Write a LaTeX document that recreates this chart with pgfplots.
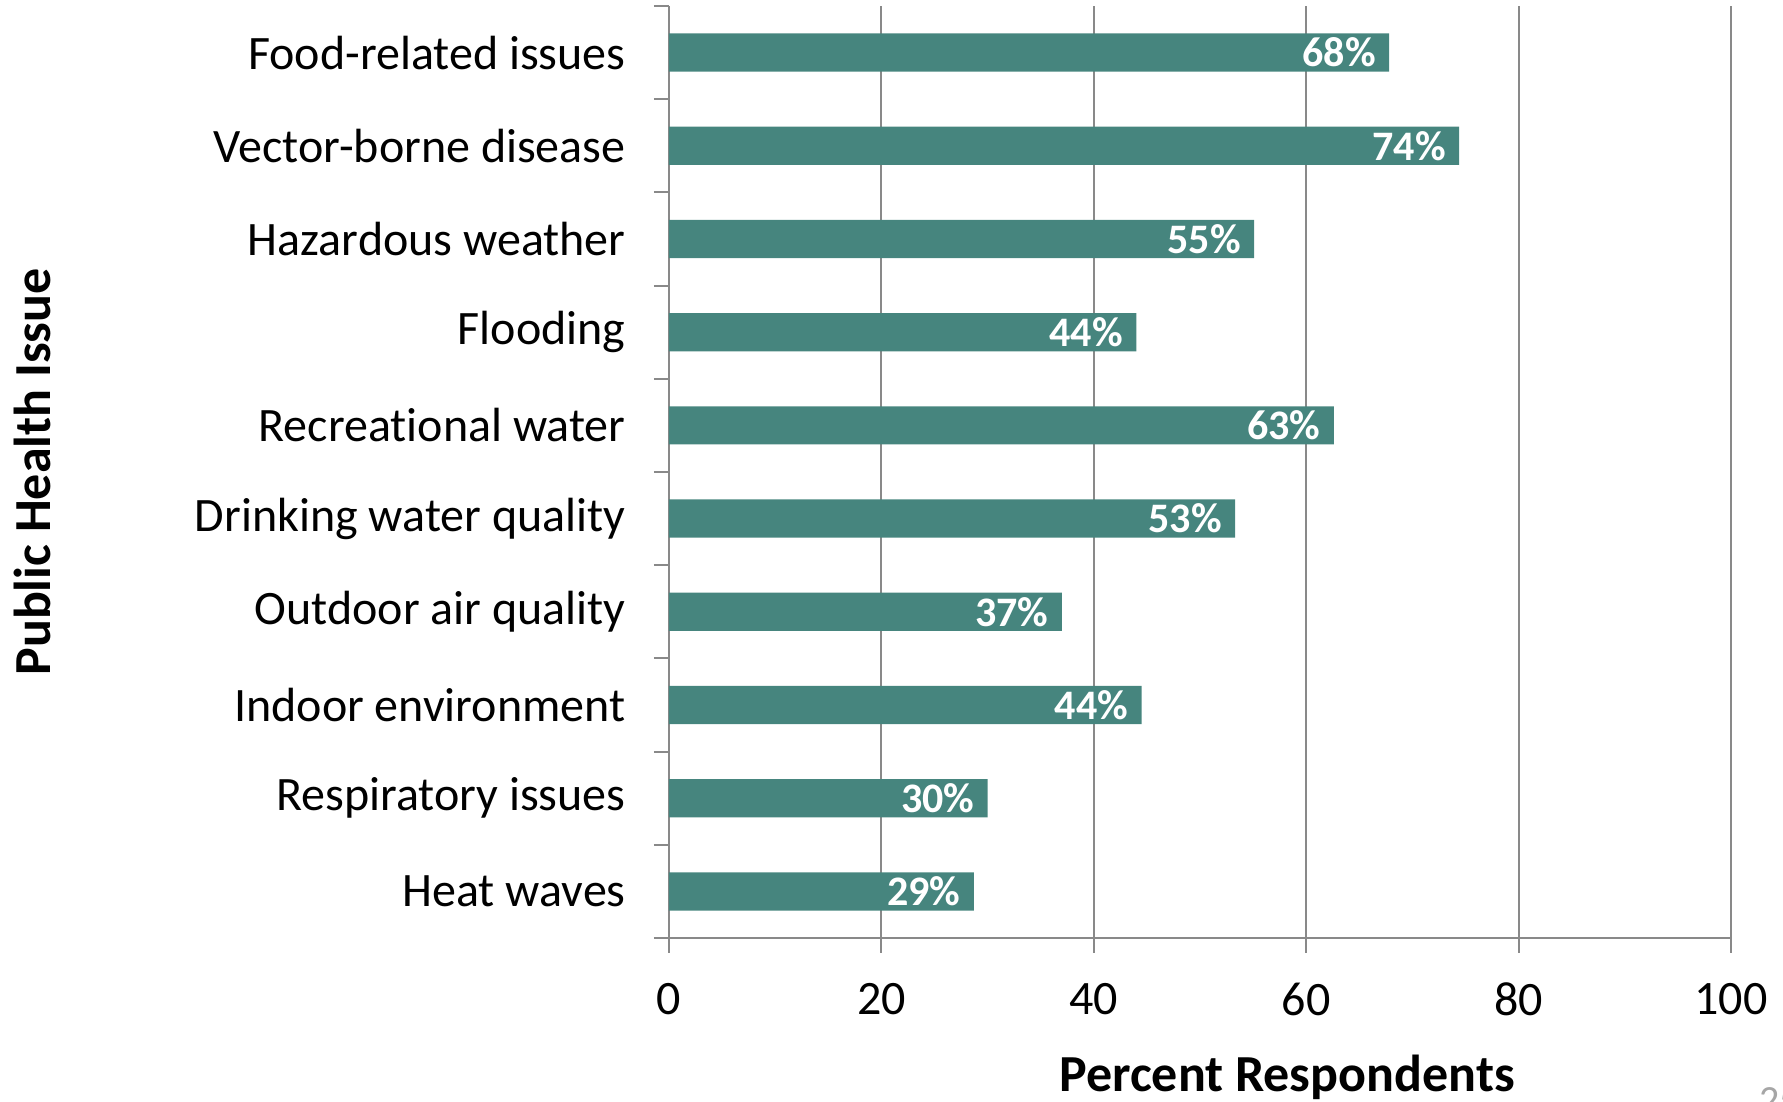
\documentclass[border=0pt]{standalone}
\usepackage{pgfplots}
\pgfplotsset{compat=1.18}
\usepackage{pgfplotstable}
\usepackage{fontspec}
\setmainfont{Carlito}[Ligatures=CommonOff]
\definecolor{barc}{RGB}{70,133,126}
\definecolor{axg}{RGB}{137,137,137}
\pgfplotstableread{
y val lab
0 28.7 29
1 30.0 30
2 44.5 44
3 37.0 37
4 53.3 53
5 62.6 63
6 44.0 44
7 55.1 55
8 74.4 74
9 67.8 68
}\datatable
\begin{document}
\begin{tikzpicture}
\begin{axis}[
  at={(0,0)}, anchor=south west,
  scale only axis, width=531pt, height=466pt,
  xmin=0, xmax=100, ymin=-0.5, ymax=9.5,
  xbar, bar width=0.41, bar shift=0pt,
  axis x line*=bottom, axis y line*=left,
  axis line style={draw=axg, line width=1pt, -},
  tick align=outside, major tick length=7.5pt,
  tick style={draw=axg, line width=1pt},
  xtick={0,20,...,100},
  xmajorgrids, major grid style={draw=axg, line width=1pt},
  /pgf/number format/assume math mode=true,
  xticklabel style={font=\fontsize{24}{28}\selectfont, text=black, yshift=-11.5pt},
  ytick={-0.5,0.5,...,9.5}, yticklabels={},
  extra y ticks={0,1,...,9},
  extra y tick labels={Heat waves,Respiratory issues,Indoor environment,Outdoor air quality,Drinking water quality,Recreational water,Flooding,Hazardous weather,Vector-borne disease,Food-related issues},
  extra y tick style={tick style={draw=none}, yticklabel style={font=\fontsize{24}{28}\selectfont, text=black, anchor=east, inner sep=0pt, xshift=-14pt}},
  xlabel={Percent Respondents},
  xlabel style={font=\bfseries\fontsize{26}{30}\selectfont, at={(axis description cs:0.582,-0.150)}, anchor=center},
  ylabel={Public Health Issue},
  ylabel style={font=\bfseries\fontsize{26}{30}\selectfont, at={(axis description cs:-0.5998,0.5)}, anchor=center},
  point meta=explicit symbolic,
  nodes near coords={\pgfplotspointmeta\%},
  every node near coord/.append style={anchor=east, inner sep=0pt, xshift=-6.5pt, text=white, font=\bfseries\fontsize{21}{24}\selectfont},
]
\addplot[fill=barc, draw=none] table[x=val, y=y, meta=lab] {\datatable};
\end{axis}
\node[anchor=north west, inner sep=0pt, text=gray!70, font=\fontsize{20}{24}\selectfont] at (545pt,-74.5pt) {25};
\pgfresetboundingbox
\useasboundingbox (-334.5pt,-82pt) rectangle (557pt,469pt);
\end{tikzpicture}
\end{document}
